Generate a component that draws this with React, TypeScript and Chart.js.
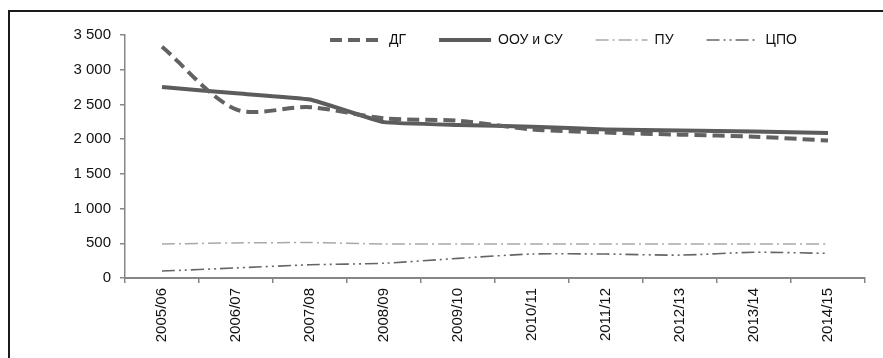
import React, { useEffect, useRef } from "react";
import { Chart, registerables } from "chart.js";

Chart.register(...registerables);

const categories = ["2005/06", "2006/07", "2007/08", "2008/09", "2009/10", "2010/11", "2011/12", "2012/13", "2013/14", "2014/15"];
const seriesNames = ["ДГ", "ООУ и СУ", "ПУ", "ЦПО"];
const dgValues = [3330, 2430, 2460, 2300, 2265, 2140, 2095, 2065, 2035, 1980];
const oouValues = [2750, 2660, 2570, 2245, 2205, 2178, 2140, 2125, 2110, 2090];
const puValues = [490, 505, 510, 490, 488, 488, 488, 488, 488, 488];
const cpoValues = [100, 145, 190, 213, 283, 345, 345, 330, 370, 355];
const yTickValues = [0, 500, 1000, 1500, 2000, 2500, 3000, 3500];

const fmt = (v: number) =>
  v >= 1000 ? `${Math.floor(v / 1000)} ${String(v % 1000).padStart(3, "0")}` : String(v);

const FONT = "'Liberation Sans', Arial, sans-serif";

const legendPlugin = {
  id: "customLegend",
  afterDraw(chart: any) {
    const ctx = chart.ctx as CanvasRenderingContext2D;
    const area = chart.chartArea;
    let x = area.left + 205;
    const y = area.top + 5;
    const boxW = 52;
    ctx.save();
    ctx.font = `14px ${FONT}`;
    ctx.textBaseline = "middle";
    chart.data.datasets.forEach((ds: any) => {
      ctx.save();
      ctx.strokeStyle = ds.borderColor;
      ctx.lineWidth = ds.borderWidth;
      ctx.setLineDash(ds.borderDash || []);
      ctx.beginPath();
      ctx.moveTo(x, y);
      ctx.lineTo(x + boxW, y);
      ctx.stroke();
      ctx.restore();
      ctx.fillStyle = "#111";
      ctx.fillText(ds.label, x + boxW + 7, y);
      const w = ctx.measureText(ds.label).width;
      x += boxW + 7 + w + 33;
    });
    ctx.restore();
  },
};

export default function App() {
  const ref = useRef<HTMLCanvasElement>(null);
  useEffect(() => {
    if (!ref.current) return;
    const chart = new Chart(ref.current, {
      type: "line",
      data: {
        labels: categories,
        datasets: [
          { label: seriesNames[0], data: dgValues, borderColor: "#626262", borderWidth: 4, borderDash: [12, 6], tension: 0.3 },
          { label: seriesNames[1], data: oouValues, borderColor: "#5c5c5c", borderWidth: 4, tension: 0.1 },
          { label: seriesNames[2], data: puValues, borderColor: "#a8a8a8", borderWidth: 1.5, borderDash: [13, 4, 2, 4], tension: 0.2 },
          { label: seriesNames[3], data: cpoValues, borderColor: "#666666", borderWidth: 1.6, borderDash: [13, 4, 2, 4, 2, 4], tension: 0.25 },
        ],
      },
      options: {
        responsive: false,
        animation: false,
        layout: { padding: { top: 23, right: 18, left: 0, bottom: 0 } },
        elements: { point: { radius: 0 } },
        plugins: { legend: { display: false }, tooltip: { enabled: false } },
        scales: {
          x: {
            offset: true,
            grid: { offset: true, drawOnChartArea: false, drawTicks: true, tickLength: 5, color: "#868686", lineWidth: 1.5 },
            border: { display: true, color: "#868686", width: 2 },
            ticks: { minRotation: 90, maxRotation: 90, padding: 5, color: "#111", font: { family: FONT, size: 15 } },
            afterFit: (s: any) => { s.height = 80; },
          },
          y: {
            min: 0,
            max: 3500,
            afterBuildTicks: (s: any) => { s.ticks = yTickValues.map((v) => ({ value: v })); },
            grid: { drawOnChartArea: false, drawTicks: true, tickLength: 5, color: "#868686", lineWidth: 1.5 },
            border: { display: true, color: "#868686", width: 1.5 },
            ticks: { padding: 9, color: "#111", font: { family: FONT, size: 15 }, callback: (v: any) => fmt(Number(v)) },
            afterFit: (s: any) => { s.width = 115; },
          },
        },
      },
      plugins: [legendPlugin],
    });
    return () => chart.destroy();
  }, []);
  return (
    <div style={{ position: "absolute", left: 8, top: 10, borderLeft: "2px solid #1a1a1a", borderTop: "2px solid #1a1a1a", width: 875, height: 348 }}>
      <canvas ref={ref} width={873} height={346} style={{ display: "block" }} />
    </div>
  );
}
